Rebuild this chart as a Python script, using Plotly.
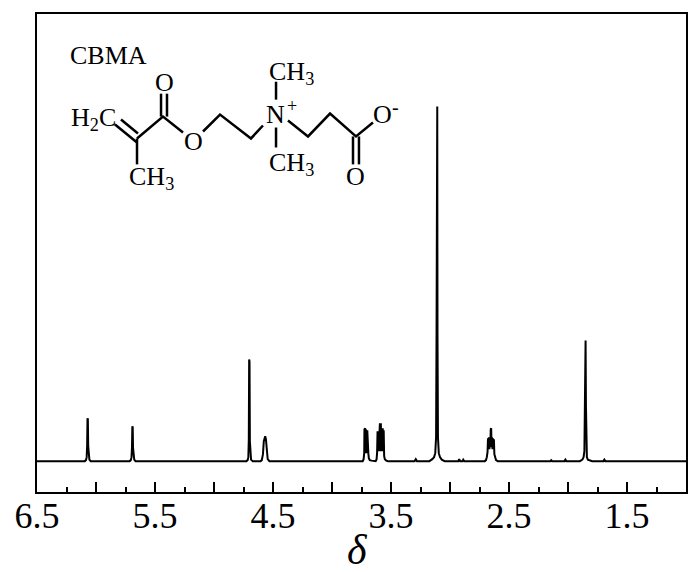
import plotly.graph_objects as go

#-------------------------------------------------------------------------------
# spectrum, delta in ppm and intensity in arbitrary units
delta = [6.5, 6.095, 6.085, 6.079, 6.075, 6.072, 6.069, 6.066, 6.062, 6.056, 6.045,
    5.715, 5.705, 5.699, 5.695, 5.692, 5.689, 5.686, 5.682, 5.676, 5.665,
    4.725, 4.715, 4.709, 4.705, 4.702, 4.699, 4.696, 4.692, 4.686, 4.672,
    4.605, 4.595, 4.585, 4.578, 4.572, 4.566, 4.56, 4.552, 4.545, 4.53,
    3.74, 3.732, 3.727, 3.725, 3.722, 3.719, 3.716, 3.713, 3.71, 3.707, 3.704, 3.701, 3.698, 3.695, 3.692, 3.688, 3.68, 3.665, 3.65,
    3.63, 3.622, 3.618, 3.614, 3.61, 3.606, 3.602, 3.598, 3.594, 3.59, 3.586, 3.582, 3.578, 3.574, 3.57, 3.566, 3.562, 3.558, 3.552, 3.54, 3.525,
    3.3, 3.29, 3.28,
    3.175, 3.15, 3.135, 3.125, 3.118, 3.114, 3.112, 3.11, 3.108, 3.106, 3.102, 3.095, 3.085, 3.07, 3.045,
    2.93, 2.922, 2.914, 2.895, 2.888, 2.88,
    2.705, 2.695, 2.688, 2.682, 2.678, 2.674, 2.67, 2.666, 2.662, 2.658, 2.655, 2.651, 2.648, 2.644, 2.64, 2.636, 2.632, 2.628, 2.624, 2.618, 2.61, 2.595,
    2.15, 2.142, 2.134, 2.03, 2.022, 2.014,
    1.9, 1.878, 1.868, 1.861, 1.857, 1.854, 1.851, 1.848, 1.845, 1.84, 1.832, 1.815, 1.795,
    1.7, 1.692, 1.684, 1.0]
intensity = [0, 0, 1, 4, 16, 43, 42, 15, 5, 1.5, 0,
    0, 1, 4, 14, 35, 34, 13, 4, 1.5, 0,
    0, 1, 4, 22, 102, 100, 20, 4, 1.5, 0,
    0, 1, 7, 20, 25, 25, 22, 10, 2, 0,
    0, 2, 8, 32, 8, 33, 8, 32, 8, 31, 8, 31, 8, 30, 8, 3, 1, 0.5, 0,
    0, 2, 8, 30, 10, 30, 10, 28, 38, 10, 38, 10, 30, 10, 33, 10, 31, 5, 2, 0.5, 0,
    0, 2, 0,
    0, 2, 4, 8, 24, 130, 248, 356, 356, 130, 24, 8, 4, 1.5, 0,
    0, 2, 0, 0, 1.5, 0,
    0, 1, 4, 9, 23, 12, 24, 12, 24, 14, 32, 33, 14, 24, 12, 23, 12, 22, 7, 3, 1, 0,
    0, 1, 0, 0, 1.5, 0,
    0, 1.5, 4, 10, 56, 121, 121, 56, 10, 4, 1.5, 0.5, 0,
    0, 1.5, 0, 0]

major_ticks = [6.5, 6.0, 5.5, 5.0, 4.5, 4.0, 3.5, 3.0, 2.5, 2.0, 1.5, 1.0]
major_labels = ['6.5', '', '5.5', '', '4.5', '', '3.5', '', '2.5', '', '1.5', '']
minor_ticks = [6.25, 5.75, 5.25, 4.75, 4.25, 3.75, 3.25, 2.75, 2.25, 1.75, 1.25]

# inset structure, bonds as polylines in page pixels
bonds = [
    [(115, 123), (137, 141)],
    [(121, 118), (138, 132)],
    [(137, 137), (137, 163)],
    [(137, 137), (163, 115), (183, 131)],
    [(161, 92), (161, 115)],
    [(167, 92), (167, 115)],
    [(203, 130), (220, 113), (251, 137), (263, 124)],
    [(276, 80), (276, 98)],
    [(276, 126), (276, 146)],
    [(288, 119), (308, 135), (330, 112), (356, 135), (373, 121)],
    [(353, 135), (353, 163)],
    [(359, 135), (359, 163)],
]
labels = [
    ('CBMA', 108, 54, 26),
    ('H<sub>2</sub>C', 93, 117, 26),
    ('O', 164, 81, 26),
    ('O', 193, 140, 26),
    ('CH<sub>3</sub>', 151, 177, 26),
    ('N', 275, 113, 26),
    ('+', 292, 104, 18),
    ('CH<sub>3</sub>', 291, 71, 26),
    ('CH<sub>3</sub>', 291, 163, 26),
    ('O', 382, 113, 26),
    ('-', 395, 105, 20),
    ('O', 355, 175, 26),
    ('<i>δ</i>', 357, 550, 42),
]

# the page body has an 8 px margin, so the figure sits 8 px in
OFF = 8
W, H = 692, 564
L, R, T, B = 29, 14, 4, 80
serif = 'Liberation Serif'

def px(x):
    return (x - OFF - L) / (W - L - R)

def py(y):
    return 1 - (y - OFF - T) / (H - T - B)

#-------------------------------------------------------------------------------
fig = go.Figure(go.Scatter(x=delta, y=intensity, mode='lines',
    line=dict(color='black', width=2), hoverinfo='skip'))

for bond in bonds:
    path = 'M ' + ' L '.join(f'{px(x):.4f} {py(y):.4f}' for x, y in bond)
    fig.add_shape(type='path', path=path, xref='paper', yref='paper',
        line=dict(color='black', width=2.5))

for text, x, y, size in labels:
    fig.add_annotation(text=text, x=px(x), y=py(y), xref='paper', yref='paper',
        xanchor='center', yanchor='middle', showarrow=False,
        font=dict(family=serif, size=size, color='black'))

fig.update_layout(
    width=W, height=H,
    margin=dict(l=L, r=R, t=T, b=B, pad=0),
    paper_bgcolor='white', plot_bgcolor='white',
    showlegend=False,
    font=dict(family=serif, color='black'),
    xaxis=dict(range=[6.5, 1.0], tickvals=major_ticks, ticktext=major_labels,
        ticks='inside', ticklen=10, tickwidth=1.5, tickcolor='black',
        tickangle=0, tickfont=dict(size=36, family=serif), ticklabelstandoff=-9,
        minor=dict(tickvals=minor_ticks, ticks='inside', ticklen=5, tickwidth=1.5,
            tickcolor='black', showgrid=False),
        showline=True, linecolor='black', linewidth=2, mirror=True,
        showgrid=False, zeroline=False),
    yaxis=dict(range=[-31, 449], showticklabels=False, ticks='',
        showline=True, linecolor='black', linewidth=2, mirror=True,
        showgrid=False, zeroline=False),
)

fig.write_html("out.html")
